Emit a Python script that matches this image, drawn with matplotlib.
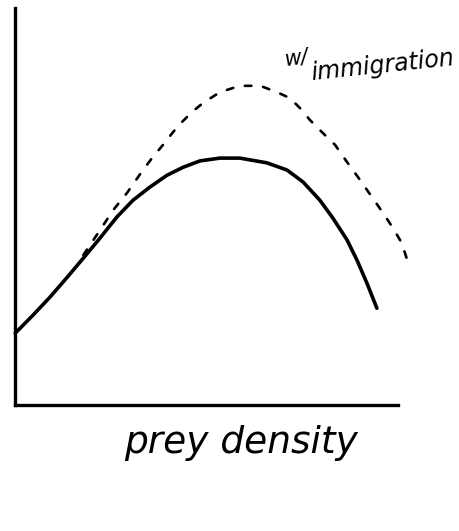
import matplotlib
matplotlib.use("Agg")
import matplotlib.pyplot as plt

# sketched response curves (prey density vs. response, arbitrary units)
base_x = [0.0, 0.047, 0.091, 0.136, 0.178, 0.222, 0.266, 0.308, 0.352, 0.397, 0.439,
          0.483, 0.535, 0.587, 0.658, 0.710, 0.752, 0.796, 0.830, 0.867, 0.893, 0.919, 0.945]
base_y = [0.181, 0.227, 0.272, 0.322, 0.370, 0.421, 0.474, 0.516, 0.549, 0.579, 0.599,
          0.615, 0.622, 0.622, 0.610, 0.592, 0.562, 0.516, 0.471, 0.416, 0.365, 0.307, 0.244]

immig_x = [0.178, 0.222, 0.256, 0.292, 0.334, 0.360, 0.386, 0.413, 0.436, 0.462, 0.491,
           0.535, 0.587, 0.640, 0.684, 0.718, 0.744, 0.770, 0.804, 0.836, 0.867, 0.901,
           0.932, 0.961, 0.987, 1.010, 1.026]
immig_y = [0.378, 0.441, 0.491, 0.534, 0.592, 0.625, 0.655, 0.688, 0.713, 0.738, 0.761,
           0.788, 0.804, 0.804, 0.788, 0.773, 0.748, 0.718, 0.685, 0.655, 0.612, 0.567,
           0.524, 0.484, 0.446, 0.408, 0.360]

CURVE_LABEL = "w/immigration"
X_LABEL = "prey density"

fig = plt.figure(figsize=(4.59, 5.31), dpi=100)
ax = fig.add_axes([0.033, 0.237, 0.834, 0.748])

ax.plot(base_x, base_y, color="black", lw=2.6, solid_capstyle="round",
        solid_joinstyle="round", clip_on=False)
ax.plot(immig_x, immig_y, color="black", lw=1.9, linestyle=(0, (2.5, 4.5)),
        dash_capstyle="round", clip_on=False)

ax.set_xlim(0, 1)
ax.set_ylim(0, 1)
ax.set_xticks([])
ax.set_yticks([])
for side in ("top", "right"):
    ax.spines[side].set_visible(False)
for side in ("left", "bottom"):
    ax.spines[side].set_linewidth(2.4)

# handwritten-style annotations
w_part, rest = CURVE_LABEL.split("/")
ax.text(0.70, 0.845, w_part + "/", fontsize=15, style="italic", rotation=8,
        transform=ax.transAxes, ha="left", va="bottom")
ax.text(0.77, 0.805, rest, fontsize=17, style="italic", rotation=6,
        transform=ax.transAxes, ha="left", va="bottom")
fig.text(0.525, 0.165, X_LABEL, fontsize=27, style="italic", ha="center", va="center")

fig.savefig("out.png", dpi=100, facecolor="white")
